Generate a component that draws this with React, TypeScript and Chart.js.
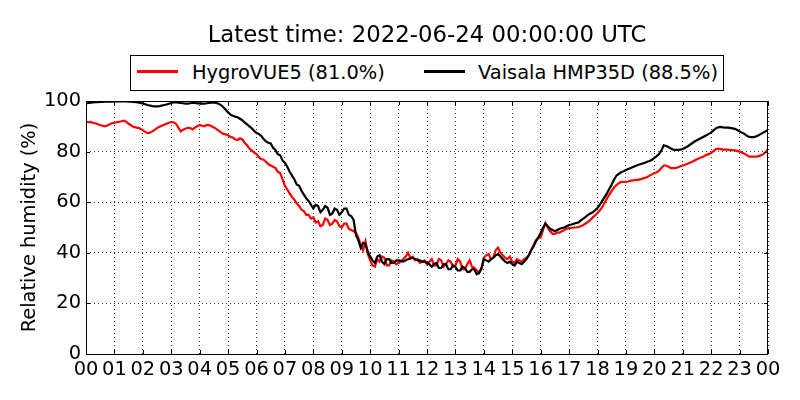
import { useEffect, useRef } from 'react'
import { Chart, registerables } from 'chart.js'
import type { Plugin } from 'chart.js'
Chart.register(...registerables)

// relative humidity (%), 5-minute samples from 00:00 to 24:00 (one row per hour)
const hygroVue5 = [
  91.8, 91.6, 91.7, 91.3, 91.2, 90.8, 90.5, 90.2, 90.0, 90.3, 90.8, 91.2,
  91.4, 91.6, 91.8, 92.0, 92.2, 91.8, 91.0, 90.4, 89.8, 89.6, 89.4, 89.0,
  88.5, 87.8, 87.3, 87.5, 88.0, 88.6, 89.3, 89.8, 90.2, 90.6, 91.0, 91.4,
  91.7, 91.6, 91.0, 89.5, 88.0, 88.6, 89.0, 89.4, 89.3, 88.8, 89.5, 90.0,
  90.5, 90.2, 90.0, 90.6, 90.5, 90.0, 89.5, 89.0, 88.3, 87.6, 87.0, 86.8,
  86.5, 85.8, 85.6, 84.8, 84.6, 85.3, 84.8, 83.5, 82.5, 81.2, 80.5, 79.6,
  79.0, 77.8, 77.0, 76.8, 76.0, 75.0, 74.5, 74.0, 73.5, 72.0, 71.5, 69.0,
  66.5, 65.0, 63.5, 62.0, 61.0, 59.5, 58.5, 57.0, 56.5, 55.0, 55.0, 53.5,
  54.0, 52.0, 52.5, 50.5, 51.0, 53.5, 53.0, 51.0, 51.5, 53.0, 52.5, 50.5,
  50.0, 51.5, 51.5, 49.5, 49.0, 48.5, 48.0, 46.0, 43.0, 41.0, 44.5, 39.5,
  37.0, 35.0, 34.5, 37.5, 36.5, 38.5, 38.0, 35.0, 35.0, 37.0, 36.5, 35.5,
  36.0, 36.5, 37.5, 38.5, 40.0, 38.0, 38.5, 37.0, 37.5, 36.0, 36.5, 37.0,
  35.5, 36.5, 37.5, 35.0, 35.0, 37.5, 37.0, 34.5, 35.5, 37.0, 36.5, 34.5,
  35.0, 37.5, 36.5, 33.5, 33.5, 35.5, 37.0, 34.5, 34.0, 33.0, 32.0, 33.5,
  38.0, 39.0, 39.5, 37.5, 38.0, 41.0, 42.0, 40.0, 39.0, 38.0, 37.5, 38.5,
  36.5, 36.0, 37.5, 37.0, 36.5, 37.5, 38.0, 39.0, 41.0, 43.0, 45.0, 46.0,
  46.0, 49.0, 51.8, 50.0, 48.5, 47.5, 47.5, 48.0, 48.0, 48.5, 49.0, 49.5,
  49.8, 49.8, 50.0, 50.0, 50.2, 50.5, 51.0, 51.6, 52.2, 53.0, 54.0, 54.8,
  55.7, 56.8, 58.0, 59.8, 61.5, 63.0, 64.5, 65.8, 66.8, 67.5, 68.0, 68.0,
  68.0, 68.2, 68.5, 68.6, 68.8, 68.8, 69.0, 69.3, 69.6, 70.0, 70.5, 71.0,
  71.5, 71.8, 72.5, 73.5, 74.5, 74.5, 74.0, 73.5, 73.5, 73.5, 73.8, 74.2,
  74.5, 74.8, 75.2, 75.6, 76.0, 76.5, 77.0, 77.4, 77.8, 78.2, 78.7, 79.0,
  79.5, 80.2, 81.0, 81.2, 81.0, 80.8, 80.8, 80.8, 80.6, 80.6, 80.5, 80.3,
  80.0, 79.6, 79.2, 78.6, 78.0, 78.0, 78.0, 78.0, 78.2, 78.5, 79.0, 79.8,
  81.0,
]
const vaisalaHmp35d = [
  99.0, 99.2, 99.3, 99.4, 99.5, 99.5, 99.6, 99.6, 99.7, 99.7, 99.7, 99.7,
  99.8, 99.8, 99.8, 99.8, 99.8, 99.8, 99.7, 99.7, 99.6, 99.5, 99.4, 99.2,
  99.0, 98.7, 98.4, 98.2, 98.0, 97.9, 97.9, 98.0, 98.2, 98.4, 98.6, 98.9,
  99.2, 99.4, 99.5, 99.3, 99.2, 99.1, 99.0, 99.0, 99.1, 99.2, 99.2, 99.1,
  99.1, 99.0, 99.0, 99.1, 99.2, 99.3, 99.3, 99.2, 98.9, 98.4, 97.5, 96.5,
  95.5, 94.6, 94.2, 93.8, 93.6, 93.0, 92.4, 91.5, 90.8, 90.0, 89.2, 88.2,
  87.3, 87.0, 86.2, 85.0, 84.0, 83.5, 83.2, 81.5, 80.6, 79.0, 78.5, 76.5,
  75.5, 74.0, 72.0, 70.5, 69.0, 67.0, 66.5, 64.5, 63.0, 61.5, 60.5, 59.0,
  57.5, 59.0, 58.5, 56.0, 57.0, 58.5, 57.8, 55.0, 55.5, 57.5, 57.0, 55.0,
  56.0, 57.5, 57.5, 55.0, 54.5, 53.0, 47.0, 45.0, 42.0, 44.0, 43.5, 40.5,
  38.5, 37.0, 36.0, 38.5, 39.0, 36.5, 35.5, 37.5, 37.5, 36.0, 36.0, 37.0,
  37.0, 36.8, 36.5, 37.0, 37.5, 37.8, 38.0, 37.5, 37.0, 37.0, 36.5, 36.5,
  36.0, 35.5, 34.5, 35.5, 36.0, 34.0, 34.0, 35.5, 35.5, 33.5, 33.5, 35.0,
  34.5, 33.0, 33.0, 34.5, 34.0, 32.5, 32.5, 33.5, 33.5, 31.5, 32.0, 34.0,
  37.5, 37.0, 36.5, 37.5, 38.0, 39.0, 39.5, 38.5, 37.5, 36.5, 36.0, 36.5,
  35.5, 35.0, 36.5, 36.0, 35.5, 36.5, 37.5, 39.0, 41.0, 42.5, 44.5, 46.0,
  47.8, 50.0, 51.5, 50.5, 49.5, 49.0, 48.5, 49.0, 49.5, 49.8, 50.0, 50.5,
  51.0, 51.2, 51.5, 51.8, 52.0, 52.8, 53.5, 54.2, 55.0, 55.5, 56.0, 56.8,
  57.7, 59.0, 60.5, 62.0, 63.5, 65.3, 67.0, 69.0, 70.5, 71.2, 71.8, 72.2,
  72.7, 73.1, 73.5, 73.9, 74.3, 74.7, 75.0, 75.3, 75.6, 76.0, 76.3, 76.8,
  77.5, 78.2, 79.0, 80.5, 82.5, 82.2, 81.8, 81.2, 80.8, 80.7, 80.7, 80.8,
  81.0, 81.5, 82.0, 82.7, 83.3, 84.0, 84.5, 85.0, 85.5, 86.0, 86.5, 87.0,
  87.5, 88.4, 89.2, 89.6, 89.8, 89.6, 89.5, 89.5, 89.4, 89.2, 89.0, 88.5,
  88.0, 87.5, 87.0, 86.3, 85.8, 85.7, 85.7, 86.0, 86.5, 87.0, 87.5, 88.0,
  88.5,
]
const hourLabels = ['00', '01', '02', '03', '04', '05', '06', '07', '08', '09', '10', '11',
  '12', '13', '14', '15', '16', '17', '18', '19', '20', '21', '22', '23', '00']
const yTicks = [0, 20, 40, 60, 80, 100]

const FONT = "'DejaVu Sans', sans-serif"

// matplotlib-ish frame with inward ticks on all four sides
const framePlugin: Plugin<'line'> = {
  id: 'frame',
  afterDraw(chart) {
    const { ctx, chartArea: a, scales } = chart
    ctx.save()
    ctx.strokeStyle = '#000'
    ctx.lineWidth = 1
    ctx.beginPath()
    for (let h = 0; h < hourLabels.length; h++) {
      const x = Math.round(scales.x.getPixelForValue(h)) + 0.5
      ctx.moveTo(x, a.bottom); ctx.lineTo(x, a.bottom - 4)
      ctx.moveTo(x, a.top); ctx.lineTo(x, a.top + 4)
    }
    yTicks.forEach(v => {
      const y = Math.round(scales.y.getPixelForValue(v)) + 0.5
      ctx.moveTo(a.left, y); ctx.lineTo(a.left + 4, y)
      ctx.moveTo(a.right, y); ctx.lineTo(a.right - 4, y)
    })
    ctx.stroke()
    ctx.strokeRect(Math.round(a.left) + 0.5, Math.round(a.top) + 0.5, Math.round(a.right - a.left) - 1, Math.round(a.bottom - a.top))
    ctx.restore()
  },
}

export default function App() {
  const ref = useRef<HTMLCanvasElement>(null)

  useEffect(() => {
    if (!ref.current) return
    const times = hygroVue5.map((_, i) => i / 12)
    const chart = new Chart(ref.current, {
      type: 'line',
      data: {
        datasets: [
          { label: 'HygroVUE5 (81.0%)', data: hygroVue5.map((v, i) => ({ x: times[i], y: v })), borderColor: '#ff0000', borderWidth: 2.2, pointRadius: 0, order: 2 },
          { label: 'Vaisala HMP35D (88.5%)', data: vaisalaHmp35d.map((v, i) => ({ x: times[i], y: v })), borderColor: '#000000', borderWidth: 2.2, pointRadius: 0, order: 1 },
        ],
      },
      options: {
        responsive: true, maintainAspectRatio: false, animation: false,
        layout: { padding: { left: 0, top: 101, right: 32, bottom: 0 } },
        plugins: { legend: { display: false }, tooltip: { enabled: false }, title: { display: false } },
        scales: {
          x: {
            type: 'linear', min: 0, max: 24,
            afterFit: s => { s.height = 46 },
            afterBuildTicks: s => { s.ticks = hourLabels.map((_, i) => ({ value: i })) },
            grid: { color: '#000', lineWidth: 0.8, drawTicks: false },
            border: { display: false, dash: [1, 3] },
            ticks: { autoSkip: false, maxRotation: 0, padding: 4, color: '#000', font: { family: FONT, size: 19.4 }, callback: v => hourLabels[Number(v)] },
          },
          y: {
            min: 0, max: 100,
            afterFit: s => { s.width = 86 },
            afterBuildTicks: s => { s.ticks = yTicks.map(v => ({ value: v })) },
            grid: { color: '#000', lineWidth: 0.8, drawTicks: false },
            border: { display: false, dash: [1, 3] },
            ticks: { padding: 5, color: '#000', font: { family: FONT, size: 19.4 } },
            title: { display: true, text: 'Relative humidity (%)', color: '#000', font: { family: FONT, size: 19.4 }, padding: { top: 18, bottom: 0 } },
          },
        },
      },
      plugins: [framePlugin],
    })
    return () => chart.destroy()
  }, [])

  const legendText = { position: 'absolute' as const, top: 63, fontSize: 19.4, lineHeight: 1, whiteSpace: 'nowrap' as const }

  return (
    <div style={{ position: 'absolute', left: 0, top: 0, width: 800, height: 400, background: '#fff', fontFamily: FONT, color: '#000' }}>
      <canvas ref={ref} />
      <div style={{ position: 'absolute', left: 86, width: 682, top: 23, textAlign: 'center', fontSize: 22.8, lineHeight: 1, whiteSpace: 'nowrap' }}>
        Latest time: 2022-06-24 00:00:00 UTC
      </div>
      <div style={{ position: 'absolute', left: 130, top: 55, width: 592, height: 34, border: '1px solid #000', background: '#fff' }} />
      <div style={{ position: 'absolute', left: 137, top: 70, width: 41, height: 3, background: '#ff0000' }} />
      <div style={{ ...legendText, left: 192 }}>HygroVUE5 (81.0%)</div>
      <div style={{ position: 'absolute', left: 424, top: 70, width: 41, height: 3, background: '#000' }} />
      <div style={{ ...legendText, left: 478 }}>Vaisala HMP35D (88.5%)</div>
    </div>
  )
}
